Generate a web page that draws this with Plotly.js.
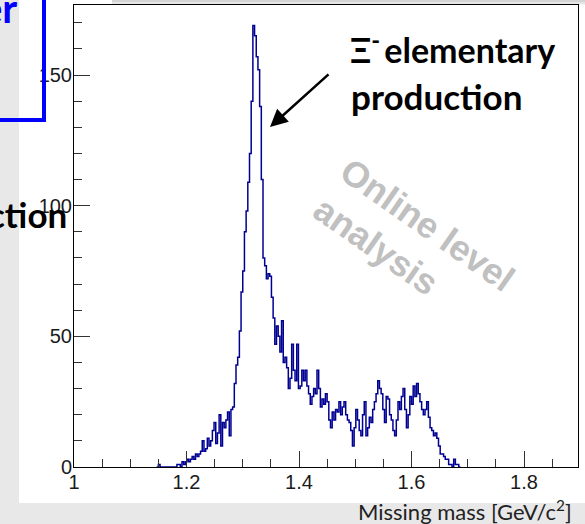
<!DOCTYPE html>
<html><head><meta charset="utf-8">
<script src="https://cdn.plot.ly/plotly-3.0.1.min.js"></script>
<style>html,body{margin:0;padding:0;background:#e8e8e8;}#chart{width:585px;height:524px;}</style>
</head><body><div id="chart"></div>
<script>
// histogram binning (GeV/c^2)
const binStart = 1.147;
const binWidth = 0.003;
// counts per bin, starting at binStart
const counts = [
  0, 1, 0, 0, 0, 0, 0, 0, 0, 0, 0, 0, 1, 1, 0, 2, 1, 2, 3, 2,
  3, 4, 3, 5, 4, 5, 6, 10, 6, 7, 11, 8, 10, 14, 17, 9, 13, 20, 8, 17,
  15, 18, 21, 12, 22, 23, 32, 39, 42, 52, 67, 75, 90, 98, 109, 120, 140, 169, 165, 157,
  152, 138, 110, 80, 77, 72, 74, 73, 65, 57, 47, 54, 50, 44, 56, 40, 42, 38, 30, 34,
  47, 37, 33, 47, 30, 31, 37, 33, 37, 31, 28, 24, 27, 30, 28, 37, 30, 23, 26, 24,
  28, 25, 18, 15, 21, 18, 22, 21, 25, 20, 23, 25, 20, 18, 17, 14, 8, 15, 22, 18,
  14, 12, 20, 25, 12, 15, 19, 17, 22, 25, 28, 33, 30, 28, 22, 17, 27, 26, 20, 18,
  14, 12, 18, 25, 22, 27, 30, 22, 15, 20, 27, 24, 31, 27, 32, 28, 25, 22, 20, 22,
  25, 19, 15, 14, 12, 13, 11, 8, 5, 5, 4, 3, 3, 1, 1, 0, 3, 1, 1, 0
];
const xTickVals = [1, 1.2, 1.4, 1.6, 1.8];
const xTickText = ['1', '1.2', '1.4', '1.6', '1.8'];
const yTickVals = [0, 50, 100, 150];
const yTickText = ['0', '50', '100', '150'];
const xTitle = 'Missing mass [GeV/c<sup>2</sup>]';
const peakLabel1 = 'Ξ<sup>-</sup>\u2009elementary';
const peakLabel2 = 'production';
const watermark = 'Online level<br>analysis';
const leftCut1 = 'er';
const leftCut2 = 'ction';

// step outline from bin edges
const xs = [], ys = [];
counts.forEach((c, i) => { xs.push(binStart + i * binWidth); ys.push(c); });
xs.push(binStart + counts.length * binWidth); ys.push(counts[counts.length - 1]);

// pixel -> paper helpers for decorations
const L = 74, T = 5, W = 504, H = 462;
const fx = p => (p - L) / W;
const fy = p => (T + H - p) / H;

const trace = {
  x: xs, y: ys, type: 'scatter', mode: 'lines',
  line: {shape: 'hv', color: '#000092', width: 1.5},
  hoverinfo: 'skip', showlegend: false
};

const tickFont = {family: 'Liberation Sans, Arial, sans-serif', size: 20, color: '#1a1a1a'};
const boldFont = 'Lato, Calibri, sans-serif';

const layout = {
  width: 585, height: 524,
  margin: {l: 74, r: 7, t: 5, b: 57, pad: 0},
  paper_bgcolor: '#e8e8e8',
  plot_bgcolor: '#ffffff',
  showlegend: false,
  xaxis: {
    range: [1, 1.896], showline: true, mirror: true, linecolor: '#000', linewidth: 1,
    ticks: 'inside', ticklen: 16, tickwidth: 1, tickcolor: '#333',
    tickmode: 'array', tickvals: xTickVals, ticktext: xTickText, tickfont: tickFont,
    ticklabelstandoff: -3,
    showgrid: false, zeroline: false,
    minor: {tickmode: 'linear', tick0: 1, dtick: 0.05, ticks: 'inside', ticklen: 8, tickwidth: 1, tickcolor: '#333', showgrid: false}
  },
  yaxis: {
    range: [0, 176.8], showline: true, mirror: true, linecolor: '#000', linewidth: 1,
    ticks: 'inside', ticklen: 16, tickwidth: 1, tickcolor: '#333',
    tickmode: 'array', tickvals: yTickVals, ticktext: yTickText, tickfont: tickFont,
    ticklabelstandoff: -3,
    showgrid: false, zeroline: false,
    minor: {tickmode: 'linear', tick0: 0, dtick: 10, ticks: 'inside', ticklen: 8, tickwidth: 1, tickcolor: '#333', showgrid: false}
  },
  shapes: [
    {type: 'rect', xref: 'paper', yref: 'paper', x0: fx(19), x1: fx(586), y0: fy(503), y1: fy(-1),
      fillcolor: '#ffffff', line: {width: 0}, layer: 'below'},
    {type: 'rect', xref: 'paper', yref: 'paper', x0: fx(112), x1: fx(586), y0: fy(2), y1: fy(-1),
      fillcolor: '#d4d4d4', line: {width: 0}, layer: 'below'},
    {type: 'rect', xref: 'paper', yref: 'paper', x0: fx(112), x1: fx(586), y0: fy(4.5), y1: fy(2),
      fillcolor: '#e6e6e6', line: {width: 0}, layer: 'below'},
    {type: 'rect', xref: 'paper', yref: 'paper', x0: fx(-20), x1: fx(44), y0: fy(120), y1: fy(-20),
      fillcolor: 'rgba(0,0,0,0)', line: {color: '#0000ff', width: 4}, layer: 'above'}
  ],
  annotations: [
    {xref: 'paper', yref: 'paper', x: fx(348), y: fy(72), xanchor: 'left', yanchor: 'bottom',
      text: peakLabel1, showarrow: false, font: {family: boldFont, size: 34, color: '#000', weight: 'bold'}},
    {xref: 'paper', yref: 'paper', x: fx(349), y: fy(119), xanchor: 'left', yanchor: 'bottom',
      text: peakLabel2, showarrow: false, font: {family: boldFont, size: 35, color: '#000', weight: 'bold'}},
    {xref: 'paper', yref: 'paper', x: fx(270), y: fy(127), ax: 60, ay: -54, text: '',
      showarrow: true, arrowhead: 2, arrowsize: 1.4, arrowwidth: 2.5, arrowcolor: '#000'},
    {xref: 'paper', yref: 'paper', x: fx(414), y: fy(244), xanchor: 'center', yanchor: 'middle',
      text: watermark, align: 'left', textangle: 35, showarrow: false,
      font: {family: 'Liberation Sans, Arial, sans-serif', size: 36, color: '#c0c0c0', weight: 'bold'}},
    {xref: 'paper', yref: 'paper', x: fx(69), y: fy(237), xanchor: 'right', yanchor: 'bottom',
      text: leftCut2, showarrow: false, font: {family: boldFont, size: 35, color: '#000', weight: 'bold'}},
    {xref: 'paper', yref: 'paper', x: fx(19), y: fy(34), xanchor: 'right', yanchor: 'bottom',
      text: leftCut1, showarrow: false, font: {family: boldFont, size: 40, color: '#0000ff', weight: 'bold'}},
    {xref: 'paper', yref: 'paper', x: fx(574), y: fy(494), xanchor: 'right', yanchor: 'top',
      text: xTitle, showarrow: false, font: {family: 'Lato, Calibri, sans-serif', size: 22, color: '#222'}}
  ]
};

Plotly.newPlot('chart', [trace], layout, {staticPlot: true, displayModeBar: false});
</script>
</body></html>
